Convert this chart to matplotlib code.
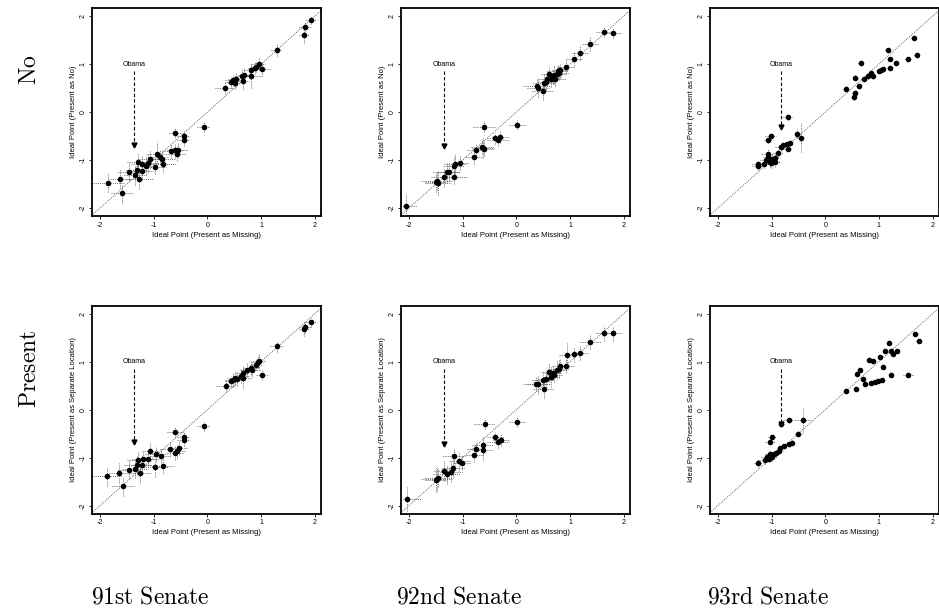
import matplotlib
matplotlib.use("Agg")
import matplotlib.pyplot as plt
import numpy as np

plt.rcParams['font.family'] = ['Liberation Sans', 'DejaVu Sans']
plt.rcParams['mathtext.fontset'] = 'cm'

# ideal point estimates: x = present treated as missing, y = alternative coding
s91_no_x = [1.94, 1.82, 1.80, 1.29, 0.96, 0.91, 0.88, 1.02, 0.81, 0.81, 0.69, 0.65, 0.66, 0.54, 0.48, 0.44,
            0.51, 0.32, -0.07, -0.60, -0.44, -0.44, -0.54, -0.60, -0.67, -0.57, -0.94, -0.88, -0.85, -1.07,
            -1.30, -1.22, -1.10, -1.14, -0.98, -1.31, -1.22, -1.47, -1.35, -1.27, -1.62, -1.86, -1.59, -0.83]
s91_no_y = [1.92, 1.78, 1.60, 1.29, 1.00, 0.95, 0.92, 0.90, 0.87, 0.76, 0.78, 0.75, 0.64, 0.68, 0.66, 0.62,
            0.61, 0.50, -0.31, -0.43, -0.49, -0.58, -0.79, -0.80, -0.81, -0.87, -0.87, -0.93, -0.98, -0.98,
            -1.05, -1.09, -1.07, -1.12, -1.14, -1.21, -1.22, -1.24, -1.32, -1.40, -1.39, -1.47, -1.69, -1.09]
s91_no_xe = [0.10, 0.12, 0.10, 0.10, 0.12, 0.10, 0.12, 0.15, 0.12, 0.18, 0.12, 0.15, 0.12, 0.15, 0.15, 0.12,
             0.12, 0.18, 0.12, 0.12, 0.12, 0.12, 0.18, 0.15, 0.18, 0.15, 0.20, 0.15, 0.25, 0.20,
             0.20, 0.20, 0.20, 0.20, 0.20, 0.20, 0.20, 0.20, 0.20, 0.25, 0.20, 0.30, 0.20, 0.25]
s91_no_ye = [0.08, 0.10, 0.15, 0.12, 0.12, 0.12, 0.12, 0.15, 0.15, 0.25, 0.15, 0.15, 0.15, 0.15, 0.12, 0.12,
             0.12, 0.12, 0.10, 0.10, 0.10, 0.12, 0.15, 0.15, 0.15, 0.15, 0.25, 0.15, 0.15, 0.20,
             0.20, 0.20, 0.20, 0.20, 0.15, 0.20, 0.20, 0.20, 0.20, 0.20, 0.20, 0.20, 0.20, 0.15]

s92_no_x = [-2.05, -1.48, -1.46, -1.34, -1.30, -1.26, -1.17, -1.17, -1.14, -1.05, -0.78, -0.76, -0.64, -0.61,
            -0.60, -0.40, -0.34, -0.30, 0.02, 0.38, 0.40, 0.49, 0.52, 0.58, 0.64, 0.61, 0.70, 0.77, 0.79, 0.82,
            0.73, 0.93, 1.08, 1.18, 1.37, 1.64, 1.80, 0.68, 0.75, 0.55, -1.50, -0.62]
s92_no_y = [-1.96, -1.43, -1.47, -1.36, -1.24, -1.24, -1.35, -1.12, -1.08, -1.06, -0.94, -0.80, -0.73, -0.77,
            -0.30, -0.55, -0.59, -0.52, -0.26, 0.54, 0.51, 0.45, 0.61, 0.70, 0.68, 0.80, 0.78, 0.85, 0.82, 0.87,
            0.70, 0.94, 1.11, 1.24, 1.42, 1.67, 1.65, 0.74, 0.80, 0.62, -1.46, -0.75]
s92_no_xe = [0.20, 0.30, 0.25, 0.25, 0.25, 0.20, 0.25, 0.20, 0.20, 0.15, 0.15, 0.15, 0.20, 0.20,
             0.20, 0.15, 0.20, 0.15, 0.15, 0.25, 0.20, 0.20, 0.20, 0.15, 0.15, 0.15, 0.15, 0.20, 0.20, 0.15,
             0.20, 0.15, 0.15, 0.15, 0.15, 0.15, 0.15, 0.15, 0.15, 0.15, 0.20, 0.20]
s92_no_ye = [0.25, 0.20, 0.25, 0.20, 0.20, 0.20, 0.15, 0.20, 0.20, 0.15, 0.15, 0.15, 0.15, 0.15,
             0.12, 0.12, 0.12, 0.12, 0.10, 0.15, 0.20, 0.20, 0.20, 0.15, 0.15, 0.15, 0.20, 0.15, 0.15, 0.15,
             0.15, 0.15, 0.15, 0.15, 0.15, 0.10, 0.10, 0.15, 0.15, 0.15, 0.20, 0.20]

s93_no_x = [1.65, 1.17, 1.71, 1.20, 1.32, 1.54, 0.66, 1.20, 1.07, 1.01, 1.04, 0.85, 0.89, 0.80, 0.72, 0.56,
            0.62, 0.38, 0.55, 0.53, -0.70, -0.52, -0.46, -1.02, -1.06, -0.66, -0.72, -0.79, -0.83, -0.70,
            -0.88, -1.07, -1.06, -1.10, -0.97, -0.94, -1.15, -1.25, -1.26, -1.01, -1.03, -0.99, -0.93]
s93_no_y = [1.55, 1.30, 1.20, 1.11, 1.02, 1.11, 1.02, 0.92, 0.89, 0.85, 0.87, 0.82, 0.75, 0.75, 0.69, 0.72,
            0.54, 0.49, 0.40, 0.31, -0.11, -0.45, -0.53, -0.50, -0.59, -0.64, -0.66, -0.69, -0.72, -0.76,
            -0.85, -0.87, -0.94, -1.00, -1.02, -0.95, -1.09, -1.09, -1.12, -1.07, -1.04, -0.98, -1.05]
s93_no_xe = [0.05, 0.05, 0.05, 0.04, 0.04, 0.05, 0.05, 0.04, 0.05, 0.05, 0.05, 0.05, 0.05, 0.05, 0.06, 0.05,
             0.05, 0.05, 0.05, 0.05, 0.08, 0.05, 0.06, 0.10, 0.08, 0.06, 0.06, 0.08, 0.10, 0.06,
             0.10, 0.12, 0.10, 0.12, 0.10, 0.10, 0.15, 0.12, 0.10, 0.10, 0.10, 0.10, 0.10]
s93_no_ye = [0.04, 0.04, 0.04, 0.04, 0.04, 0.04, 0.04, 0.04, 0.04, 0.04, 0.04, 0.05, 0.05, 0.05, 0.05, 0.05,
             0.05, 0.05, 0.05, 0.05, 0.05, 0.10, 0.30, 0.06, 0.06, 0.06, 0.06, 0.06, 0.06, 0.06,
             0.08, 0.10, 0.10, 0.10, 0.10, 0.10, 0.08, 0.08, 0.08, 0.10, 0.10, 0.10, 0.10]

s91_pr_x = [1.94, 1.82, 1.80, 1.29, 0.97, 0.94, 0.91, 1.02, 0.81, 0.83, 0.73, 0.66, 0.66, 0.52, 0.48, 0.44,
            0.34, -0.07, -0.60, -0.44, -0.44, -0.52, -0.57, -0.60, -0.69, -1.07, -0.96, -0.87, -1.30, -1.20,
            -1.10, -1.22, -1.31, -0.98, -0.83, -1.47, -1.35, -1.64, -1.25, -1.87, -1.57, 0.62, 0.56]
s91_pr_y = [1.82, 1.72, 1.68, 1.32, 1.02, 0.99, 0.94, 0.73, 0.87, 0.82, 0.83, 0.76, 0.66, 0.66, 0.62, 0.59,
            0.49, -0.35, -0.46, -0.56, -0.63, -0.80, -0.87, -0.90, -0.82, -0.87, -0.92, -0.96, -1.06, -1.03,
            -1.03, -1.15, -1.15, -1.20, -1.17, -1.25, -1.23, -1.32, -1.33, -1.39, -1.60, 0.70, 0.64]
s91_pr_xe = [0.10, 0.12, 0.10, 0.12, 0.12, 0.10, 0.12, 0.12, 0.12, 0.15, 0.12, 0.12, 0.15, 0.15, 0.15, 0.12,
             0.18, 0.12, 0.15, 0.12, 0.12, 0.15, 0.15, 0.15, 0.20, 0.15, 0.20, 0.20, 0.20, 0.20,
             0.20, 0.20, 0.25, 0.25, 0.20, 0.20, 0.25, 0.20, 0.20, 0.30, 0.20, 0.15, 0.15]
s91_pr_ye = [0.10, 0.12, 0.15, 0.12, 0.15, 0.12, 0.12, 0.12, 0.15, 0.15, 0.15, 0.15, 0.20, 0.15, 0.15, 0.12,
             0.12, 0.10, 0.10, 0.12, 0.12, 0.15, 0.15, 0.15, 0.15, 0.20, 0.15, 0.15, 0.20, 0.15,
             0.15, 0.20, 0.20, 0.20, 0.15, 0.20, 0.20, 0.20, 0.20, 0.20, 0.20, 0.15, 0.15]

s92_pr_x = [-2.03, -1.48, -1.46, -1.34, -1.30, -1.22, -1.18, -1.16, -1.06, -1.02, -0.78, -0.76, -0.63, -0.63,
            -0.59, -0.40, -0.34, -0.29, 0.02, 0.37, 0.40, 0.51, 0.49, 0.61, 0.65, 0.70, 0.75, 0.79, 0.82, 0.93,
            0.95, 1.08, 1.18, 1.38, 1.64, 1.80, 0.68, 0.56, -1.50]
s92_pr_y = [-1.87, -1.44, -1.42, -1.28, -1.35, -1.30, -1.22, -0.97, -1.08, -1.11, -0.95, -0.83, -0.74, -0.85,
            -0.29, -0.58, -0.67, -0.63, -0.26, 0.54, 0.53, 0.44, 0.61, 0.78, 0.68, 0.72, 0.83, 0.85, 0.92, 0.92,
            1.13, 1.15, 1.18, 1.42, 1.59, 1.59, 0.76, 0.63, -1.46]
s92_pr_xe = [0.25, 0.30, 0.25, 0.20, 0.25, 0.20, 0.20, 0.20, 0.20, 0.15, 0.15, 0.15, 0.20, 0.20,
             0.20, 0.15, 0.20, 0.15, 0.15, 0.25, 0.20, 0.20, 0.20, 0.15, 0.15, 0.15, 0.20, 0.20, 0.15, 0.15,
             0.15, 0.15, 0.15, 0.20, 0.15, 0.15, 0.15, 0.15, 0.20]
s92_pr_ye = [0.25, 0.25, 0.20, 0.20, 0.20, 0.20, 0.20, 0.15, 0.20, 0.15, 0.15, 0.15, 0.20, 0.20,
             0.12, 0.12, 0.12, 0.12, 0.10, 0.15, 0.20, 0.20, 0.20, 0.20, 0.20, 0.15, 0.20, 0.20, 0.15, 0.15,
             0.25, 0.15, 0.15, 0.15, 0.15, 0.15, 0.15, 0.15, 0.25]

s93_pr_x = [1.68, 1.74, 1.19, 1.11, 1.22, 1.26, 1.33, 1.02, 0.82, 0.89, 1.07, 1.55, 1.22, 1.05, 0.99, 0.92,
            0.86, 0.75, 0.70, 0.59, 0.64, 0.57, 0.39, -0.42, -0.68, -0.82, -0.50, -0.99, -1.03, -0.62,
            -0.68, -0.77, -0.84, -0.87, -0.96, -1.03, -1.09, -1.13, -1.25, -0.99, -1.05, -1.00, -0.92]
s93_pr_y = [1.58, 1.43, 1.38, 1.22, 1.22, 1.17, 1.22, 1.10, 1.03, 1.01, 0.89, 0.72, 0.72, 0.61, 0.60, 0.58,
            0.56, 0.53, 0.63, 0.74, 0.83, 0.42, 0.39, -0.22, -0.22, -0.29, -0.50, -0.57, -0.67, -0.69,
            -0.72, -0.76, -0.81, -0.86, -0.92, -0.93, -0.99, -1.04, -1.11, -0.99, -1.02, -0.95, -0.90]
s93_pr_xe = [0.05, 0.05, 0.04, 0.04, 0.04, 0.04, 0.04, 0.04, 0.04, 0.04, 0.04, 0.10, 0.04, 0.04, 0.04, 0.04,
             0.04, 0.04, 0.04, 0.04, 0.04, 0.04, 0.04, 0.15, 0.10, 0.05, 0.06, 0.08, 0.10, 0.06,
             0.06, 0.06, 0.06, 0.08, 0.08, 0.10, 0.10, 0.10, 0.08, 0.10, 0.10, 0.10, 0.10]
s93_pr_ye = [0.04, 0.04, 0.04, 0.04, 0.04, 0.04, 0.04, 0.04, 0.04, 0.04, 0.04, 0.04, 0.04, 0.04, 0.04, 0.04,
             0.04, 0.04, 0.04, 0.04, 0.04, 0.04, 0.04, 0.25, 0.05, 0.05, 0.05, 0.05, 0.05, 0.05,
             0.05, 0.05, 0.05, 0.06, 0.06, 0.08, 0.08, 0.10, 0.08, 0.08, 0.08, 0.08, 0.08]

# Obama's location (x, y) in each panel
obama_no = [(-1.36, -0.72), (-1.35, -0.75), (-0.83, -0.34)]
obama_pr = [(-1.36, -0.71), (-1.34, -0.76), (-0.82, -0.33)]

senates = ['91st Senate', '92nd Senate', '93rd Senate']
rows = ['No', 'Present']
ylabels = ['Ideal Point (Present as No)', 'Ideal Point (Present as Separate Location)']
ticks = [-2, -1, 0, 1, 2]

panels = [
    [(s91_no_x, s91_no_y, s91_no_xe, s91_no_ye),
     (s92_no_x, s92_no_y, s92_no_xe, s92_no_ye),
     (s93_no_x, s93_no_y, s93_no_xe, s93_no_ye)],
    [(s91_pr_x, s91_pr_y, s91_pr_xe, s91_pr_ye),
     (s92_pr_x, s92_pr_y, s92_pr_xe, s92_pr_ye),
     (s93_pr_x, s93_pr_y, s93_pr_xe, s93_pr_ye)],
]
obama = [obama_no, obama_pr]

fig = plt.figure(figsize=(9.39, 6.16), dpi=100)
lefts = [0.098, 0.427, 0.756]
bottoms = [0.649, 0.166]
w, h = 0.244, 0.338
dots = (0, (1, 1.2))

for r in range(2):
    for c in range(3):
        ax = fig.add_axes([lefts[c], bottoms[r], w, h])
        x, y, xe, ye = [np.array(v) for v in panels[r][c]]
        lim = (-2.15, 2.12)
        ax.plot(lim, lim, color='0.4', lw=0.7, ls=dots, zorder=1)
        # dotted credible intervals in both directions
        ax.hlines(y, x - xe, x + xe, colors='0.4', lw=0.7, linestyles=dots, zorder=2)
        ax.vlines(x, y - ye, y + ye, colors='0.4', lw=0.7, linestyles=dots, zorder=2)
        ax.plot(x, y, 'o', color='black', ms=3.0, zorder=3)

        ox, oy = obama[r][c]
        ax.text(ox, 1.0, 'Obama', fontsize=5, ha='center', va='center')
        ax.plot([ox, ox], [0.85, oy + 0.06], color='black', lw=0.8, ls=(0, (3, 2)))
        ax.plot(ox, oy + 0.04, marker='v', color='black', ms=3.5)

        ax.set_xlim(lim)
        ax.set_ylim(-2.17, 2.17)
        ax.set_xticks(ticks)
        ax.set_yticks(ticks)
        ax.set_xticklabels([str(t) for t in ticks], fontsize=5)
        ax.set_yticklabels([str(t) for t in ticks], fontsize=5, rotation=90, va='center')
        ax.tick_params(length=2.5, width=0.6, pad=1.5)
        for sp in ax.spines.values():
            sp.set_linewidth(1.3)
        ax.set_xlabel('Ideal Point (Present as Missing)', fontsize=5.5, labelpad=2)
        ax.set_ylabel(ylabels[r], fontsize=5.5, labelpad=2)

fig.text(0.032, 1 - 70 / 616, r'$\mathrm{No}$', rotation=90, fontsize=17, ha='center', va='center')
fig.text(0.032, 1 - 369 / 616, r'$\mathrm{Present}$', rotation=90, fontsize=17, ha='center', va='center')
for c, name in enumerate(senates):
    fig.text(lefts[c] + w / 2 - 0.06, 1 - 598 / 616, r'$\mathrm{' + name.replace(' ', r'\ ') + '}$',
             fontsize=17, ha='center', va='center')

fig.savefig('out.png', dpi=100)
